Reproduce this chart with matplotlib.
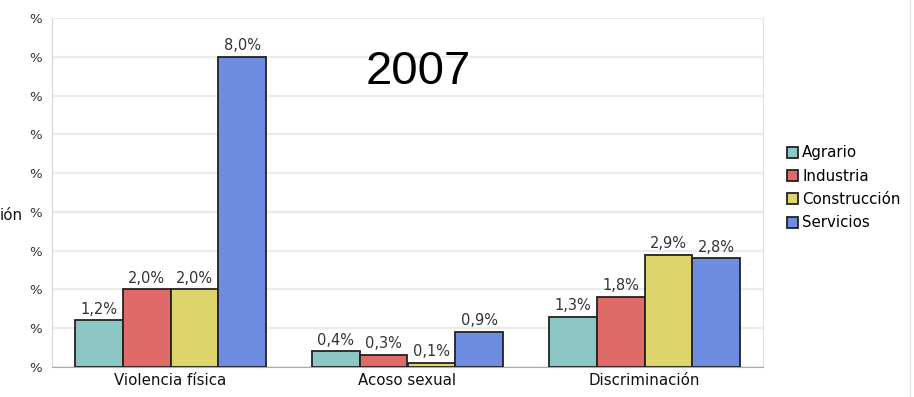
import matplotlib
matplotlib.use('Agg')

import numpy as np
import matplotlib.pyplot as plt
from matplotlib.lines import Line2D

categories = ['Violencia física', 'Acoso sexual', 'Discriminación']
sectors = ['Agrario', 'Industria', 'Construcción', 'Servicios']
agrario = [1.2, 0.4, 1.3]
industria = [2.0, 0.3, 1.8]
construccion = [2.0, 0.1, 2.9]
servicios = [8.0, 0.9, 2.8]
y_ticks = [0, 1, 2, 3, 4, 5, 6, 7, 8, 9]

series = [agrario, industria, construccion, servicios]
colors = ['#8CC6C5', '#E06A68', '#DDD56C', '#6E8DE0']

plt.rcParams['font.family'] = ['DejaVu Sans']

fig = plt.figure(figsize=(9.14, 3.97), dpi=100)
ax = fig.add_axes([52 / 914, 1 - 367 / 397, (763 - 52) / 914, (367 - 18) / 397])

x = np.arange(len(categories))
w = 0.2025
for i, (vals, col, name) in enumerate(zip(series, colors, sectors)):
    pos = x + (i - 1.5) * w
    ax.bar(pos, vals, width=w, color=col, edgecolor='#222222', linewidth=1.3,
           label=name, zorder=3)
    for px, v in zip(pos, vals):
        ax.text(px, v + 0.1, ('%.1f%%' % v).replace('.', ','),
                ha='center', va='bottom', fontsize=10.5, color='#333333', zorder=4)

ax.set_xlim(-0.5, 2.5)
ax.set_ylim(0, 9)
ax.set_yticks(y_ticks)
ax.set_yticklabels(['%'] * len(y_ticks), fontsize=9.5, color='#333333')
ax.set_xticks(x)
ax.set_xticklabels(categories, fontsize=10.8, color='#111111')
ax.tick_params(axis='y', length=0, pad=7)
ax.tick_params(axis='x', length=0, pad=4)
ax.grid(axis='y', color='#ebebeb', linewidth=1.6, zorder=0)

ax.spines['top'].set_visible(False)
ax.spines['left'].set_color('#d6d6d6')
ax.spines['right'].set_color('#e2e2e2')
ax.spines['bottom'].set_color('#aaaaaa')

leg = ax.legend(loc='upper left', bbox_to_anchor=(779 / 914, 1 - 138 / 397),
                bbox_transform=fig.transFigure, frameon=False, fontsize=10.8,
                handlelength=0.75, handleheight=0.75, handletextpad=0.3,
                labelspacing=0.55, borderpad=0)

fig.text(418 / 914, 1 - 72 / 397, '2007', ha='center', va='center',
         fontsize=34, family=['Liberation Sans', 'DejaVu Sans'])
fig.text(0, 1 - 215 / 397, 'ión', ha='left', va='center', fontsize=10.8,
         color='#111111')

fig.add_artist(Line2D([910 / 914, 910 / 914], [0, 1],
                      transform=fig.transFigure, color='#e6e6e6', linewidth=1))

fig.savefig('out.png', dpi=100)
